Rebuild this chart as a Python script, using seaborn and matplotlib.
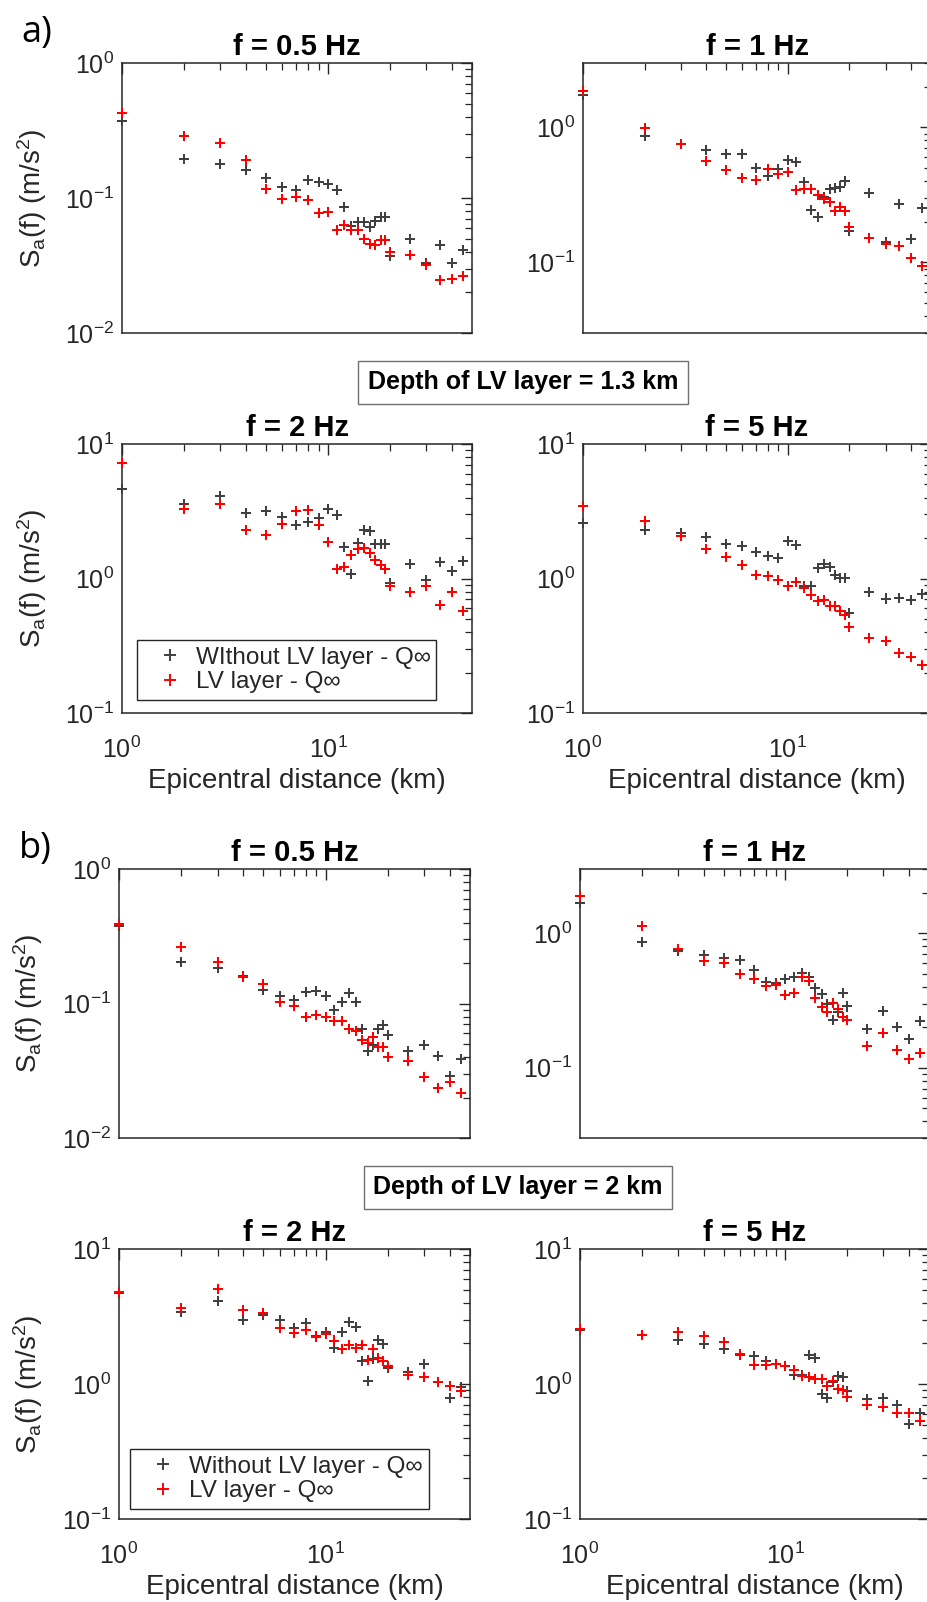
import numpy as np
import pandas as pd
import matplotlib
matplotlib.use("Agg")
import matplotlib.pyplot as plt
from matplotlib.ticker import LogLocator, NullFormatter
from matplotlib.lines import Line2D
import seaborn as sns

sns.set_theme(style="white")
plt.rcParams["font.family"] = ["Liberation Sans", "DejaVu Sans"]
plt.rcParams["mathtext.fontset"] = "custom"
plt.rcParams["mathtext.rm"] = "Liberation Sans"
plt.rcParams["mathtext.it"] = "Liberation Sans:italic"
plt.rcParams["mathtext.bf"] = "Liberation Sans:bold"
plt.rcParams["mathtext.default"] = "regular"

# ---------------------------------------------------------------- data
distance_km = [1, 2, 3, 4, 5, 6, 7, 8, 9, 10, 11, 12, 13, 14, 15, 16, 17, 18,
               19, 20, 25, 30, 35, 40, 45]

# Depth of LV layer = 1.3 km
a_f05_without = [0.372, 0.196, 0.180, 0.162, 0.141, 0.121, 0.115, 0.135, 0.131, 0.126,
                 0.114, 0.086, 0.062, 0.066, 0.066, 0.061, 0.068, 0.072, 0.072, 0.037,
                 0.050, 0.033, 0.045, 0.033, 0.041]
a_f05_lv = [0.428, 0.286, 0.255, 0.190, 0.116, 0.098, 0.102, 0.097, 0.077, 0.079,
            0.058, 0.063, 0.058, 0.058, 0.050, 0.046, 0.045, 0.049, 0.049, 0.040,
            0.038, 0.032, 0.0246, 0.025, 0.0263]
a_f1_without = [1.75, 0.867, 0.75, 0.683, 0.64, 0.64, 0.50, 0.438, 0.49, 0.569,
                0.553, 0.393, 0.245, 0.218, 0.307, 0.35, 0.353, 0.365, 0.402, 0.171,
                0.325, 0.141, 0.271, 0.148, 0.255]
a_f1_lv = [1.85, 0.99, 0.757, 0.56, 0.485, 0.425, 0.409, 0.49, 0.453, 0.471,
           0.344, 0.348, 0.35, 0.316, 0.294, 0.282, 0.242, 0.259, 0.24, 0.184,
           0.151, 0.137, 0.132, 0.108, 0.094]
a_f2_without = [4.6, 3.6, 4.13, 3.07, 3.16, 2.87, 2.51, 2.62, 2.82, 3.29,
                2.95, 1.71, 1.08, 1.84, 2.31, 2.24, 1.82, 1.82, 1.82, 0.927,
                1.29, 0.97, 1.32, 1.13, 1.34]
a_f2_lv = [7.2, 3.29, 3.58, 2.31, 2.12, 2.56, 3.19, 3.21, 2.51, 1.86,
           1.18, 1.21, 1.50, 1.66, 1.69, 1.55, 1.38, 1.27, 1.18, 0.875,
           0.80, 0.875, 0.64, 0.80, 0.57]
a_f5_without = [2.59, 2.31, 2.18, 2.04, 1.82, 1.73, 1.57, 1.46, 1.42, 1.91,
                1.76, 0.885, 0.877, 1.197, 1.29, 1.21, 1.07, 1.01, 1.01, 0.554,
                0.79, 0.71, 0.714, 0.689, 0.773]
a_f5_lv = [3.48, 2.66, 2.06, 1.66, 1.44, 1.27, 1.07, 1.04, 0.98, 0.877,
           0.944, 0.852, 0.759, 0.677, 0.689, 0.621, 0.621, 0.57, 0.538, 0.436,
           0.361, 0.341, 0.279, 0.261, 0.229]

# Depth of LV layer = 2 km
b_f05_without = [0.377, 0.203, 0.183, 0.161, 0.126, 0.113, 0.106, 0.121, 0.123, 0.113,
                 0.0898, 0.103, 0.119, 0.103, 0.065, 0.044, 0.0493, 0.0645, 0.0695, 0.0585,
                 0.044, 0.0493, 0.041, 0.0287, 0.0386]
b_f05_lv = [0.388, 0.261, 0.203, 0.157, 0.14, 0.103, 0.096, 0.080, 0.082, 0.080,
            0.0743, 0.0743, 0.0645, 0.062, 0.0537, 0.0507, 0.0562, 0.0474, 0.0474, 0.0397,
            0.0371, 0.0284, 0.0235, 0.0259, 0.0216]
b_f1_without = [1.69, 0.858, 0.736, 0.684, 0.658, 0.629, 0.531, 0.435, 0.423, 0.453,
                0.474, 0.507, 0.469, 0.389, 0.353, 0.298, 0.227, 0.259, 0.361, 0.285,
                0.194, 0.266, 0.20, 0.164, 0.221]
b_f1_lv = [1.90, 1.14, 0.758, 0.618, 0.604, 0.496, 0.455, 0.407, 0.411, 0.347,
           0.361, 0.474, 0.44, 0.332, 0.282, 0.259, 0.301, 0.274, 0.24, 0.227,
           0.146, 0.181, 0.135, 0.116, 0.129]
b_f2_without = [4.72, 3.39, 4.09, 2.99, 3.22, 2.96, 2.59, 2.82, 2.28, 2.41,
                1.85, 2.41, 2.86, 2.64, 1.49, 1.05, 1.53, 2.13, 1.99, 1.32,
                1.22, 1.41, 1.03, 0.794, 0.95]
b_f2_lv = [4.8, 3.65, 5.05, 3.51, 3.35, 2.62, 2.38, 2.52, 2.22, 2.34,
           2.1, 1.81, 1.95, 1.85, 1.95, 1.51, 1.81, 1.56, 1.47, 1.37,
           1.17, 1.12, 1.03, 0.97, 0.88]
b_f5_without = [2.5, 2.3, 2.13, 1.99, 1.83, 1.65, 1.6, 1.47, 1.41, 1.36,
                1.17, 1.17, 1.65, 1.56, 0.843, 0.787, 1.03, 1.14, 1.12, 0.883,
                0.773, 0.794, 0.701, 0.504, 0.608]
b_f5_lv = [2.55, 2.32, 2.42, 2.25, 2.03, 1.66, 1.39, 1.39, 1.41, 1.36,
           1.27, 1.15, 1.12, 1.09, 1.09, 0.97, 1.05, 0.918, 0.897, 0.807,
           0.701, 0.681, 0.615, 0.608, 0.533]

frequency_titles = ["f = 0.5 Hz", "f = 1 Hz", "f = 2 Hz", "f = 5 Hz"]
depth_titles = ["Depth of LV layer = 1.3 km", "Depth of LV layer = 2 km"]
group_labels = ["a)", "b)"]
legend_labels_a = ["WIthout LV layer - Q\u221e", "LV layer - Q\u221e"]
legend_labels_b = ["Without LV layer - Q\u221e", "LV layer - Q\u221e"]

# ---------------------------------------------------------------- style
GRAY = "#404040"
RED = "#ff0000"
INK = "#262626"
W, H = 927, 1602

fig = plt.figure(figsize=(W / 100, H / 100), dpi=100)


def axes_px(left, top, right, bottom):
    return fig.add_axes([left / W, 1 - bottom / H, (right - left) / W, (bottom - top) / H])


def draw_panel(ax, without, lv, title, ylim, xlabels, ylabel, legend_labels=None,
               legend_box=None):
    df = pd.DataFrame({
        "distance": distance_km + distance_km,
        "Sa": without + lv,
        "model": ["without"] * len(without) + ["lv"] * len(lv),
    })
    ax.set_xscale("log")
    ax.set_yscale("log")
    sns.scatterplot(data=df, x="distance", y="Sa", hue="model",
                    palette={"without": GRAY, "lv": RED}, marker="+", s=52,
                    linewidth=1.45, legend=False, ax=ax, clip_on=False, zorder=3)
    ax.set_xlim(1, 50)
    ax.set_ylim(*ylim)
    ax.set_title(title, fontsize=21, fontweight="bold", pad=5.5, color="black")

    for axis in (ax.xaxis, ax.yaxis):
        axis.set_major_locator(LogLocator(base=10, numticks=12))
        axis.set_minor_locator(LogLocator(base=10, subs=np.arange(2, 10), numticks=12))
        axis.set_minor_formatter(NullFormatter())
    ax.tick_params(which="both", direction="in", top=True, right=True, color=INK,
                   labelcolor=INK)
    ax.tick_params(which="major", length=8, width=1.0, labelsize=18)
    ax.tick_params(which="minor", length=5, width=0.9)
    ax.tick_params(axis="x", which="major", pad=17)
    ax.tick_params(axis="y", which="major", pad=5.5)
    for sp in ax.spines.values():
        sp.set_color(INK)
        sp.set_linewidth(1.1)
        sp.set_visible(True)

    if xlabels:
        ax.set_xlabel("Epicentral distance (km)", fontsize=20, color=INK)
        ax.xaxis.set_label_coords(0.5, -0.203)
    else:
        ax.set_xlabel("")
        ax.tick_params(axis="x", labelbottom=False)
    if ylabel:
        ax.set_ylabel(r"S$_{\mathrm{a}}$(f) (m/s$^{2}$)", fontsize=20, color=INK)
        ax.yaxis.set_label_coords(-0.21, 0.5)
    else:
        ax.set_ylabel("")

    if legend_labels is not None:
        handles = [Line2D([], [], linestyle="none", marker="+", markersize=8.5,
                          markeredgewidth=1.4, color=c) for c in (GRAY, RED)]
        leg = ax.legend(handles, legend_labels, loc="lower left", mode="expand",
                        bbox_to_anchor=legend_box, fontsize=17.5, frameon=True,
                        fancybox=False, framealpha=1, edgecolor=INK, borderpad=0.27,
                        labelspacing=0.1, handlelength=2.15, handletextpad=0.02,
                        borderaxespad=0)
        leg.get_frame().set_linewidth(1.0)
        for t in leg.get_texts():
            t.set_color(INK)


# ---------------------------------------------------------------- group a
ax = axes_px(122, 63, 472, 333)
draw_panel(ax, a_f05_without, a_f05_lv, frequency_titles[0], (0.01, 1), False, True)
ax = axes_px(583, 63, 931, 333)
draw_panel(ax, a_f1_without, a_f1_lv, frequency_titles[1], (0.03, 3), False, False)
ax = axes_px(122, 444, 472, 713)
draw_panel(ax, a_f2_without, a_f2_lv, frequency_titles[2], (0.1, 10), True, True,
           legend_labels_a, (15 / 350, 13 / 269, 299 / 350, 62 / 269))
ax = axes_px(583, 444, 931, 713)
draw_panel(ax, a_f5_without, a_f5_lv, frequency_titles[3], (0.1, 10), True, False)

# ---------------------------------------------------------------- group b
ax = axes_px(119, 869, 470, 1138)
draw_panel(ax, b_f05_without, b_f05_lv, frequency_titles[0], (0.01, 1), False, True)
ax = axes_px(580, 869, 929, 1138)
draw_panel(ax, b_f1_without, b_f1_lv, frequency_titles[1], (0.03, 3), False, False)
ax = axes_px(119, 1249, 470, 1519)
draw_panel(ax, b_f2_without, b_f2_lv, frequency_titles[2], (0.1, 10), True, True,
           legend_labels_b, (11 / 351, 10 / 270, 299 / 351, 62 / 270))
ax = axes_px(580, 1249, 929, 1519)
draw_panel(ax, b_f5_without, b_f5_lv, frequency_titles[3], (0.1, 10), True, False)

# ---------------------------------------------------------------- annotations
for (cx, cy), text in zip([(523, 382), (518, 1187)], depth_titles):
    fig.text(cx / W, 1 - cy / H, text, ha="center", va="center", fontsize=18,
             fontweight="bold", color="black",
             bbox=dict(boxstyle="square,pad=0.38", fc="white", ec="#707070", lw=1.0))

for (x, y), text in zip([(21, 42), (19, 858)], group_labels):
    fig.text(x / W, 1 - y / H, text, ha="left", va="baseline", fontsize=26,
             family=["Open Sans", "DejaVu Sans"], color="black")

fig.savefig("out.png", dpi=100)
